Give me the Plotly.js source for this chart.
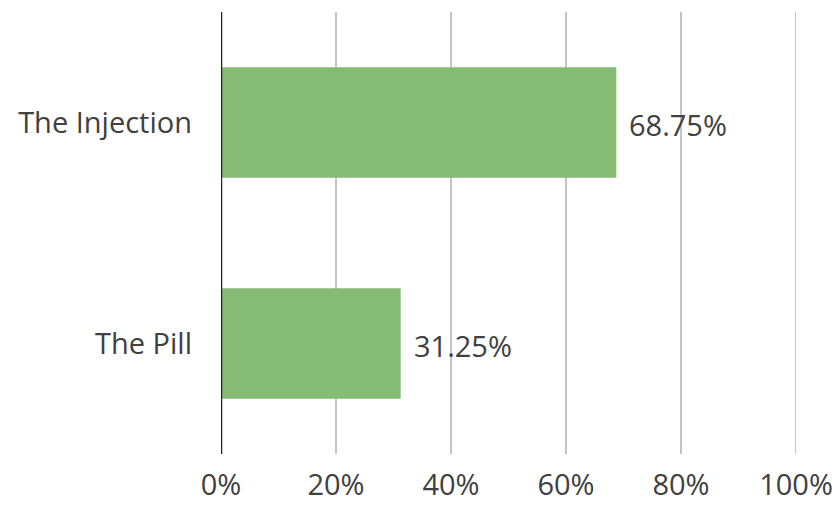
<!DOCTYPE html>
<html><head><meta charset="utf-8">
<script src="https://cdn.plot.ly/plotly-3.0.1.min.js"></script>
<style>html,body{margin:0;padding:0;background:#fff}#c{width:838px;height:508px}</style>
</head><body><div id="c"></div>
<script>
var categories = ["The Pill", "The Injection"];
var values = [31.25, 68.75];
var labels = ["31.25%", "68.75%"];
var tickVals = [0, 20, 40, 60, 80, 100];
var tickText = ["0%", "20%", "40%", "60%", "80%", "100%"];

var FONT = 'Open Sans, Noto Sans, sans-serif';
var trace = {
  type: 'bar', orientation: 'h',
  y: categories, x: values,
  marker: {color: '#86bb76'},
  width: 0.5, hoverinfo: 'none'
};
var annotations = values.map(function (v, i) {
  return {x: v, y: categories[i], xref: 'x', yref: 'y', text: labels[i],
    showarrow: false, xanchor: 'left', yanchor: 'middle', xshift: 11, yshift: -2,
    font: {family: FONT, size: 29, color: '#404040'}};
});
var shapes = tickVals.map(function (t) {
  return {type: 'line', xref: 'x', yref: 'paper', x0: t, x1: t, y0: 0, y1: 1,
    layer: t === 0 ? 'above' : 'below',
    line: {color: t === 0 ? '#262626' : '#c4c4c4', width: t === 0 ? 2.5 : 2}};
});
var layout = {
  width: 838, height: 508,
  margin: {l: 221, r: 42, t: 12, b: 54},
  paper_bgcolor: '#fff', plot_bgcolor: '#fff',
  showlegend: false,
  font: {family: FONT, size: 29, color: '#404040'},
  xaxis: {range: [0, 100], tickvals: tickVals, ticktext: tickText,
    showgrid: false, zeroline: false, showline: false, ticks: '', ticklabelstandoff: 11,
    fixedrange: true},
  yaxis: {range: [-0.5, 1.5], showgrid: false, zeroline: false,
    showline: false, ticks: '', ticklabelstandoff: 28,
    fixedrange: true},
  shapes: shapes,
  annotations: annotations
};
Plotly.newPlot('c', [trace], layout, {displayModeBar: false, staticPlot: true});
</script></body></html>
